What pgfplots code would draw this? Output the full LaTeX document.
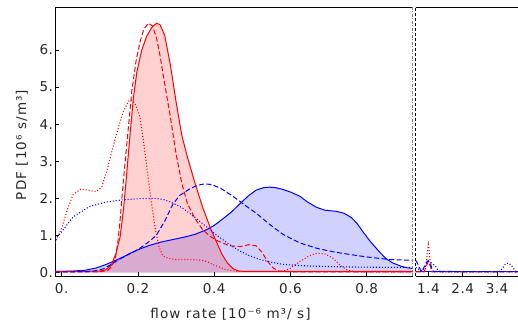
\documentclass[border=0pt]{standalone}
\usepackage{fontspec}
\setmainfont{DejaVu Sans}
\newfontfamily\tickfont[LetterSpace=4]{DejaVu Sans}
\newfontfamily\labfont[LetterSpace=8]{DejaVu Sans}
\usepackage{pgfplots}
\pgfplotsset{compat=1.18}
\begin{document}
\begin{tikzpicture}
\useasboundingbox (0pt,0pt) rectangle (518pt,326pt);
\pgfplotsset{
  panel/.style={
    scale only axis, height=268.7pt, ymin=-0.094, ymax=7.15,
    axis y line*=left,
    tick align=inside, major tick length=4pt,
    xtick pos=left,
    tick style={black, line width=0.6pt},
    axis line style={black, line width=0.7pt},
    tick label style={font=\tickfont\fontsize{13.5}{15}\selectfont, text=black!85},
    xticklabel style={yshift=-4pt},
    yticklabel style={xshift=1.5pt},
  },
  rs/.style={red, line width=1pt},
  rd/.style={red, line width=1pt, dash pattern=on 5pt off 2.5pt},
  ro/.style={red, line width=1.1pt, dash pattern=on 1pt off 2pt},
  bs/.style={blue, line width=1pt},
  bd/.style={blue, line width=1pt, dash pattern=on 5pt off 2.5pt},
  bo/.style={blue, line width=1.1pt, dash pattern=on 1pt off 2pt},
}
% ---------------- left panel ----------------
\begin{axis}[panel, at={(55pt,50pt)}, anchor=south west, width=357.7pt,
  xmin=-0.0176, xmax=0.9207,
  xtick={0,0.2,0.4,0.6,0.8}, xticklabels={0.,0.2,0.4,0.6,0.8},
  ytick={0,1,2,3,4,5,6}, yticklabels={0.,1.,2.,3.,4.,5.,6.}]
% blue solid filled
\addplot[draw=none, fill=blue, fill opacity=0.18] coordinates {
(-0.0176,0.03) (0,0.03) (0.03,0.04) (0.06,0.06) (0.09,0.12) (0.117,0.22) (0.14,0.32) (0.161,0.42) (0.18,0.52) (0.204,0.63) (0.23,0.73) (0.26,0.82) (0.292,0.89) (0.32,0.95) (0.35,1.03) (0.379,1.15) (0.40,1.27) (0.423,1.45) (0.445,1.63) (0.467,1.85) (0.49,2.07) (0.51,2.22) (0.53,2.29) (0.545,2.3) (0.56,2.29) (0.58,2.24) (0.60,2.17) (0.624,2.06) (0.645,1.9) (0.668,1.76) (0.69,1.68) (0.72,1.65) (0.74,1.6) (0.76,1.48) (0.775,1.32) (0.79,1.1) (0.81,0.83) (0.834,0.55) (0.85,0.38) (0.868,0.26) (0.89,0.17) (0.905,0.13) (0.9207,0.11)
} \closedcycle;
% red solid filled
\addplot[draw=none, fill=red, fill opacity=0.18] coordinates {
(-0.0176,0.03) (0,0.03) (0.05,0.03) (0.10,0.04) (0.115,0.07) (0.13,0.2) (0.142,0.5) (0.153,0.95) (0.162,1.7) (0.17,2.6) (0.179,3.7) (0.188,4.7) (0.197,5.4) (0.21,6.0) (0.223,6.37) (0.237,6.62) (0.249,6.72) (0.258,6.68) (0.27,6.4) (0.285,5.6) (0.30,4.6) (0.315,3.7) (0.33,3.1) (0.35,2.4) (0.37,1.75) (0.39,1.2) (0.405,0.85) (0.42,0.5) (0.435,0.25) (0.45,0.1) (0.465,0.04) (0.48,0.03) (0.6,0.03) (0.9207,0.03)
} \closedcycle;
% lines
\addplot[bs] coordinates {
(-0.0176,0.03) (0,0.03) (0.03,0.04) (0.06,0.06) (0.09,0.12) (0.117,0.22) (0.14,0.32) (0.161,0.42) (0.18,0.52) (0.204,0.63) (0.23,0.73) (0.26,0.82) (0.292,0.89) (0.32,0.95) (0.35,1.03) (0.379,1.15) (0.40,1.27) (0.423,1.45) (0.445,1.63) (0.467,1.85) (0.49,2.07) (0.51,2.22) (0.53,2.29) (0.545,2.3) (0.56,2.29) (0.58,2.24) (0.60,2.17) (0.624,2.06) (0.645,1.9) (0.668,1.76) (0.69,1.68) (0.72,1.65) (0.74,1.6) (0.76,1.48) (0.775,1.32) (0.79,1.1) (0.81,0.83) (0.834,0.55) (0.85,0.38) (0.868,0.26) (0.89,0.17) (0.905,0.13) (0.9207,0.11)
};
\addplot[rs] coordinates {
(-0.0176,0.03) (0,0.03) (0.05,0.03) (0.10,0.04) (0.115,0.07) (0.13,0.2) (0.142,0.5) (0.153,0.95) (0.162,1.7) (0.17,2.6) (0.179,3.7) (0.188,4.7) (0.197,5.4) (0.21,6.0) (0.223,6.37) (0.237,6.62) (0.249,6.72) (0.258,6.68) (0.27,6.4) (0.285,5.6) (0.30,4.6) (0.315,3.7) (0.33,3.1) (0.35,2.4) (0.37,1.75) (0.39,1.2) (0.405,0.85) (0.42,0.5) (0.435,0.25) (0.45,0.1) (0.465,0.04) (0.48,0.03) (0.6,0.03) (0.9207,0.03)
};
\addplot[rd] coordinates {
(-0.0176,0.02) (0.1,0.02) (0.12,0.05) (0.13,0.15) (0.14,0.35) (0.147,0.8) (0.153,1.4) (0.162,2.5) (0.172,3.6) (0.184,4.9) (0.195,5.7) (0.205,6.2) (0.215,6.55) (0.227,6.72) (0.238,6.65) (0.248,6.35) (0.257,5.9) (0.265,5.4) (0.275,4.8) (0.285,4.2) (0.30,3.2) (0.315,2.4) (0.33,1.85) (0.35,1.45) (0.37,1.15) (0.39,0.97) (0.41,0.85) (0.44,0.72) (0.47,0.7) (0.49,0.75) (0.51,0.72) (0.525,0.55) (0.54,0.3) (0.555,0.12) (0.57,0.04) (0.6,0.02) (0.9207,0.02)
};
\addplot[ro] coordinates {
(-0.0176,0.8) (0,1.2) (0.015,1.7) (0.03,2.1) (0.05,2.25) (0.07,2.22) (0.09,2.18) (0.105,2.3) (0.12,2.8) (0.14,3.6) (0.16,4.3) (0.175,4.62) (0.185,4.65) (0.195,4.5) (0.205,4.2) (0.215,3.5) (0.225,2.7) (0.235,1.9) (0.245,1.2) (0.255,0.7) (0.265,0.45) (0.28,0.38) (0.30,0.35) (0.33,0.35) (0.36,0.34) (0.38,0.3) (0.40,0.2) (0.43,0.08) (0.46,0.03) (0.58,0.03) (0.60,0.12) (0.625,0.3) (0.65,0.45) (0.67,0.52) (0.69,0.5) (0.71,0.4) (0.73,0.2) (0.75,0.06) (0.77,0.02) (0.9207,0.02)
};
\addplot[bd] coordinates {
(-0.0176,0.01) (0.08,0.03) (0.11,0.1) (0.13,0.22) (0.15,0.35) (0.178,0.5) (0.2,0.62) (0.225,0.8) (0.248,1.0) (0.27,1.38) (0.292,1.85) (0.31,2.08) (0.335,2.25) (0.355,2.35) (0.375,2.39) (0.395,2.37) (0.42,2.25) (0.45,2.05) (0.48,1.82) (0.51,1.6) (0.545,1.3) (0.58,1.03) (0.624,0.8) (0.67,0.65) (0.711,0.56) (0.76,0.48) (0.80,0.42) (0.86,0.35) (0.9207,0.33)
};
\addplot[bo] coordinates {
(-0.0176,0.9) (0,1.1) (0.03,1.5) (0.073,1.78) (0.117,1.9) (0.16,1.96) (0.204,1.99) (0.248,2.0) (0.27,1.96) (0.292,1.87) (0.315,1.75) (0.335,1.6) (0.357,1.42) (0.379,1.24) (0.40,1.06) (0.423,0.88) (0.445,0.72) (0.467,0.58) (0.493,0.45) (0.52,0.35) (0.55,0.28) (0.58,0.22) (0.62,0.19) (0.667,0.17) (0.75,0.15) (0.84,0.14) (0.9207,0.14)
};
\end{axis}
% ---------------- right panel ----------------
\begin{axis}[panel, at={(415.7pt,50pt)}, anchor=south west, width=102.3pt,
  xmin=1.033, xmax=4.01, y axis line style={draw=none},
  xtick={1.4,2.4,3.4}, xticklabels={1.4,2.4,3.4}, ytick=\empty]
\addplot[rs] coordinates {(1.033,0.02) (4.01,0.02)};
\addplot[bs] coordinates {(1.033,0.03) (4.01,0.03)};
\addplot[rd] coordinates {(1.033,0.02) (1.28,0.02) (1.33,0.15) (1.4,0.3) (1.47,0.15) (1.52,0.02) (4.01,0.02)};
\addplot[ro] coordinates {(1.033,0.02) (1.3,0.02) (1.34,0.2) (1.37,0.55) (1.4,0.75) (1.43,0.55) (1.46,0.2) (1.5,0.02) (4.01,0.02)};
\addplot[bd] coordinates {(1.033,0.33) (1.1,0.22) (1.18,0.05) (1.22,0.02) (1.28,0.15) (1.35,0.28) (1.4,0.32) (1.45,0.28) (1.5,0.12) (1.55,0.03) (4.01,0.02)};
\addplot[bo] coordinates {(1.033,0.14) (1.1,0.1) (1.2,0.05) (1.3,0.15) (1.4,0.3) (1.5,0.25) (1.6,0.18) (1.7,0.04) (1.8,0.02) (3.45,0.02) (3.55,0.1) (3.65,0.24) (3.75,0.25) (3.85,0.15) (3.95,0.03) (4.01,0.02)};
\end{axis}
% separators
\draw[gray, line width=0.7pt, dash pattern=on 3pt off 1.5pt on 1pt off 1.5pt] (412.7pt,50pt) -- (412.7pt,318.7pt);
\draw[black, line width=0.7pt, dash pattern=on 3pt off 2pt] (415.7pt,50pt) -- (415.7pt,318.7pt);
% labels
\node[rotate=90, font=\labfont\fontsize{13.5}{15}\selectfont, text=black!85] at (22pt,181pt) {PDF [10⁶ s/m³]};
\node[font=\labfont\fontsize{13.5}{15}\selectfont, text=black!85] at (230.5pt,12pt) {flow rate [10⁻⁶ m³/ s]};
\end{tikzpicture}
\end{document}
